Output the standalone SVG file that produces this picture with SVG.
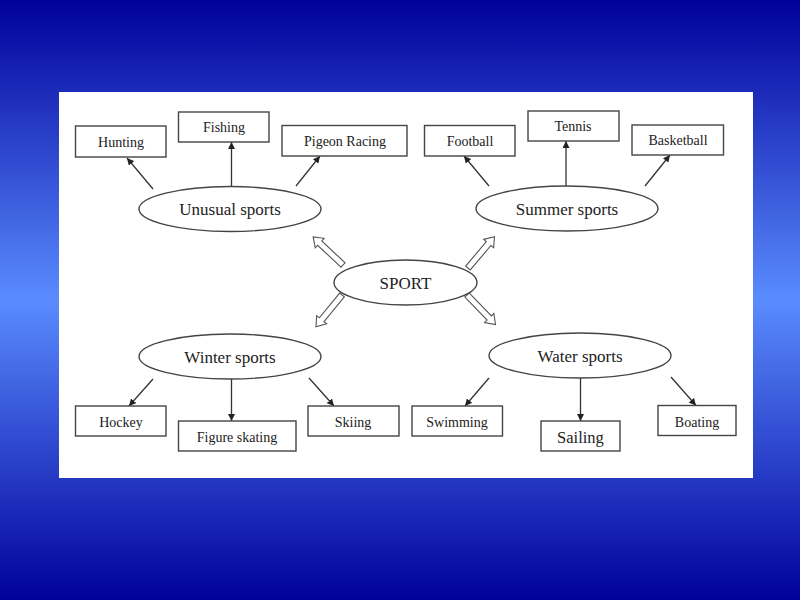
<svg xmlns="http://www.w3.org/2000/svg" width="800" height="600" viewBox="0 0 800 600">
<defs>
<linearGradient id="bg" x1="0" y1="0" x2="0" y2="1">
<stop offset="0" stop-color="#00009a"/>
<stop offset="0.5" stop-color="#5a8cff"/>
<stop offset="1" stop-color="#00009a"/>
</linearGradient>
<marker id="ah" viewBox="0 0 10 10" refX="10" refY="5" markerWidth="7" markerHeight="7" markerUnits="userSpaceOnUse" orient="auto">
<path d="M0,0 L10,5 L0,10 z" fill="#222"/>
</marker>
<path id="blk" d="M0,-3 L32,-3 L32,-6.5 L41,0 L32,6.5 L32,3 L0,3 Z"/>
</defs>
<style>
.box{fill:#fff;stroke:#444;stroke-width:1.4}
.ell{fill:#fff;stroke:#444;stroke-width:1.4}
.bt{font-family:"Liberation Serif","Times New Roman",serif;font-size:14px;fill:#222;text-anchor:middle}
.et{font-family:"Liberation Serif","Times New Roman",serif;font-size:17px;fill:#222;text-anchor:middle}
.st{font-family:"Liberation Serif","Times New Roman",serif;font-size:17px;fill:#222;text-anchor:middle}
.ln{stroke:#333;stroke-width:1.3;fill:none;marker-end:url(#ah)}
.blk{fill:#fff;stroke:#555;stroke-width:1.1}
</style>
<rect x="0" y="0" width="800" height="600" fill="url(#bg)"/>
<rect x="59" y="92" width="694" height="386" fill="#fff"/>

<g id="connectors">
<line class="ln" x1="153" y1="189" x2="127" y2="158"/>
<line class="ln" x1="231.5" y1="186" x2="231.5" y2="142"/>
<line class="ln" x1="296" y1="186" x2="320" y2="156"/>
<line class="ln" x1="489" y1="186" x2="464" y2="156"/>
<line class="ln" x1="566" y1="186" x2="566" y2="141"/>
<line class="ln" x1="645" y1="186" x2="670" y2="155"/>
<line class="ln" x1="153" y1="379" x2="129" y2="406"/>
<line class="ln" x1="231.5" y1="379" x2="231.5" y2="421"/>
<line class="ln" x1="309" y1="378" x2="334" y2="406"/>
<line class="ln" x1="489" y1="378" x2="465" y2="406"/>
<line class="ln" x1="580.5" y1="378" x2="580.5" y2="421"/>
<line class="ln" x1="671" y1="377" x2="696" y2="405.5"/>
<use href="#blk" class="blk" transform="translate(343,265) rotate(-136.7)"/>
<use href="#blk" class="blk" transform="translate(468,268) rotate(-49.8)"/>
<use href="#blk" class="blk" transform="translate(342,295) rotate(129.4)"/>
<use href="#blk" class="blk" transform="translate(467,295) rotate(46)"/>
</g>

<g id="sport"><ellipse class="ell" cx="405.5" cy="282.5" rx="71.5" ry="22.5"/><text class="st" x="405.5" y="289">SPORT</text></g>

<g id="unusual"><ellipse class="ell" cx="230" cy="209" rx="91" ry="22.5"/><text class="et" x="230" y="215">Unusual sports</text></g>
<g id="summer"><ellipse class="ell" cx="567" cy="208.5" rx="91" ry="22.5"/><text class="et" x="567" y="214.5">Summer sports</text></g>
<g id="winter"><ellipse class="ell" cx="230" cy="356.5" rx="91" ry="22.5"/><text class="et" x="230" y="362.5">Winter sports</text></g>
<g id="water"><ellipse class="ell" cx="580" cy="355.5" rx="91" ry="22.5"/><text class="et" x="580" y="361.5">Water sports</text></g>

<g id="hunting"><rect class="box" x="75.5" y="126" width="90.5" height="31"/><text class="bt" x="121" y="147">Hunting</text></g>
<g id="fishing"><rect class="box" x="178.5" y="112" width="90.5" height="30"/><text class="bt" x="224" y="132">Fishing</text></g>
<g id="pigeon"><rect class="box" x="282" y="125.5" width="125" height="30.5"/><text class="bt" x="345" y="146">Pigeon Racing</text></g>
<g id="football"><rect class="box" x="424.5" y="125.5" width="90.5" height="30.5"/><text class="bt" x="470" y="146">Football</text></g>
<g id="tennis"><rect class="box" x="528" y="111" width="91" height="30"/><text class="bt" x="573" y="131">Tennis</text></g>
<g id="basketball"><rect class="box" x="632" y="125" width="91.5" height="30"/><text class="bt" x="678" y="145">Basketball</text></g>

<g id="hockey"><rect class="box" x="75.5" y="406" width="90.5" height="30"/><text class="bt" x="121" y="427">Hockey</text></g>
<g id="figure"><rect class="box" x="178.5" y="421" width="117.5" height="30"/><text class="bt" x="237" y="442">Figure skating</text></g>
<g id="skiing"><rect class="box" x="308" y="406" width="91" height="30"/><text class="bt" x="353" y="427">Skiing</text></g>
<g id="swimming"><rect class="box" x="412" y="406" width="90.5" height="30"/><text class="bt" x="457" y="427">Swimming</text></g>
<g id="sailing"><rect class="box" x="541" y="421" width="79" height="30"/><text class="bt" x="580.5" y="443" style="font-size:16.5px">Sailing</text></g>
<g id="boating"><rect class="box" x="658" y="405.5" width="78" height="30"/><text class="bt" x="697" y="426.5">Boating</text></g>
</svg>
